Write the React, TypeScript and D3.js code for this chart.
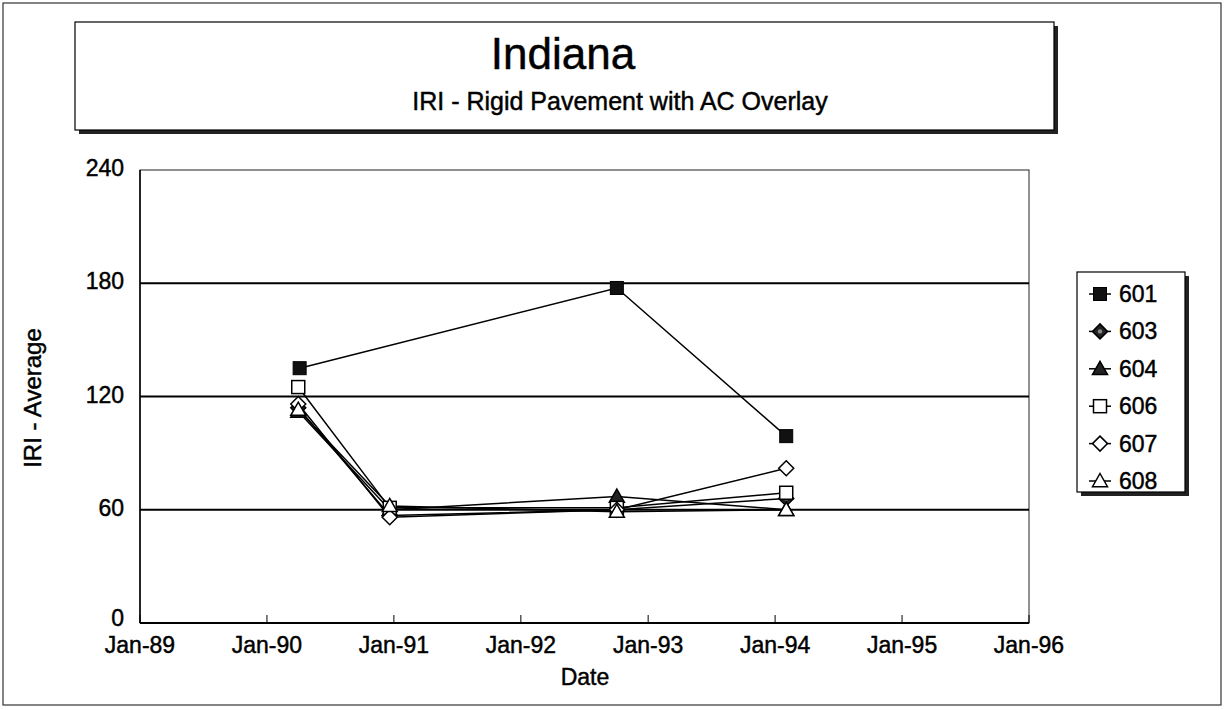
import React from "react";
import * as d3 from "d3";

const seriesNames = ["601", "603", "604", "606", "607", "608"];
const markerTypes = ["squareFilled", "diamondHatch", "triangleFilled", "squareOpen", "diamondOpen", "triangleOpen"];
const dates601 = [new Date(1990, 3, 5), new Date(1992, 9, 3), new Date(1994, 1, 2)];
const datesOther = [new Date(1990, 3, 1), new Date(1990, 11, 20), new Date(1992, 9, 3), new Date(1994, 1, 2)];
const values601 = [135, 177.5, 99];
const values603 = [114, 57, 60, 66];
const values604 = [112, 60, 67, 60];
const values606 = [125, 61, 61, 69];
const values607 = [116, 56, 60, 82];
const values608 = [113, 62, 59, 60];
const yTicks = [0, 60, 120, 180, 240];
const xTickYears = [1989, 1990, 1991, 1992, 1993, 1994, 1995, 1996];
const xTickLabels = ["Jan-89", "Jan-90", "Jan-91", "Jan-92", "Jan-93", "Jan-94", "Jan-95", "Jan-96"];

const FONT = "'Liberation Sans', Arial, sans-serif";
const TXT = { fill: "#000", stroke: "#000", strokeWidth: 0.45 };

function Marker({ type, x, y }: { type: string; x: number; y: number }) {
  const s = 6.5;
  if (type === "squareFilled")
    return <rect x={x - s} y={y - s} width={2 * s} height={2 * s} fill="#111" stroke="#000" />;
  if (type === "squareOpen")
    return <rect x={x - s} y={y - s} width={2 * s} height={2 * s} fill="#fff" stroke="#000" strokeWidth={1.5} />;
  if (type === "diamondHatch" || type === "diamondOpen") {
    const d = 7.5;
    return (
      <g>
        <path d={`M${x},${y - d}L${x + d},${y}L${x},${y + d}L${x - d},${y}Z`} fill={type === "diamondOpen" ? "#fff" : "#222"} stroke="#000" strokeWidth={1.5} />
        {type === "diamondHatch" && <circle cx={x} cy={y} r={2.2} fill="#888" />}
      </g>
    );
  }
  const t = 7.5;
  return (
    <path
      d={`M${x},${y - t}L${x + t},${y + t * 0.75}L${x - t},${y + t * 0.75}Z`}
      fill={type === "triangleFilled" ? "#222" : "#fff"}
      stroke="#000"
      strokeWidth={1.5}
    />
  );
}

export default function App() {
  const W = 1225, H = 710;
  const x = d3.scaleTime().domain([new Date(1989, 0, 1), new Date(1996, 0, 1)]).range([140, 1029]);
  const y = d3.scaleLinear().domain([0, 240]).range([623, 170]);
  const allValues = [values601, values603, values604, values606, values607, values608];
  const series = seriesNames.map((name, i) => ({
    name,
    type: markerTypes[i],
    pts: (i === 0 ? dates601 : datesOther).map((d, j) => ({ d, v: allValues[i][j] })),
  }));
  const line = d3.line<{ d: Date; v: number }>().x((p) => x(p.d)).y((p) => y(p.v));

  return (
    <svg width={W} height={H} style={{ position: "absolute", left: 0, top: 0, background: "#fff" }} fontFamily={FONT}>
      <rect x={3} y={3} width={1218} height={702} fill="#fff" stroke="#333" strokeWidth={1.2} />
      {/* Title box with shadow */}
      <rect x={79} y={26} width={979} height={108} fill="#222" />
      <rect x={75} y={22} width={979} height={108} fill="#fff" stroke="#000" strokeWidth={1.2} />
      <text x={563} y={69} textAnchor="middle" fontSize={44} {...TXT}>Indiana</text>
      <text x={620} y={110} textAnchor="middle" fontSize={25} {...TXT}>IRI  -  Rigid Pavement with AC Overlay</text>

      {/* Plot frame */}
      <rect x={140} y={170} width={889} height={453} fill="#fff" stroke="#222" strokeWidth={1} />
      {yTicks.filter((t) => t > 0 && t < 240).map((t) => (
        <line key={t} x1={140} x2={1029} y1={y(t)} y2={y(t)} stroke="#000" strokeWidth={2} />
      ))}
      <line x1={140} x2={1029} y1={623} y2={623} stroke="#000" strokeWidth={2} />
      <line x1={140} x2={140} y1={170} y2={623} stroke="#000" strokeWidth={1.5} />
      {xTickYears.map((yr) => (
        <line key={yr} x1={x(new Date(yr, 0, 1))} x2={x(new Date(yr, 0, 1))} y1={623} y2={615} stroke="#000" strokeWidth={1} />
      ))}
      {yTicks.map((t) => (
        <text key={t} x={124} y={y(t) + (t === 0 ? 3 : 6)} textAnchor="end" fontSize={23} {...TXT}>{t}</text>
      ))}
      {xTickYears.map((yr, i) => (
        <text key={yr} x={x(new Date(yr, 0, 1))} y={653} textAnchor="middle" fontSize={23} {...TXT}>{xTickLabels[i]}</text>
      ))}
      <text x={585} y={685} textAnchor="middle" fontSize={23} {...TXT}>Date</text>
      <text transform="translate(41,398) rotate(-90)" textAnchor="middle" fontSize={24} {...TXT}>IRI - Average</text>

      {/* Series */}
      {series.map((s) => (
        <path key={s.name} d={line(s.pts) || ""} fill="none" stroke="#000" strokeWidth={1.5} />
      ))}
      {series.map((s) => (
        <g key={s.name + "m"}>
          {s.pts.map((p, j) => (
            <Marker key={j} type={s.type} x={x(p.d)} y={y(p.v)} />
          ))}
        </g>
      ))}

      {/* Legend */}
      <rect x={1081} y={276} width={108} height={220} fill="#222" />
      <rect x={1077} y={272} width={108} height={220} fill="#fff" stroke="#000" strokeWidth={1.2} />
      {series.map((s, i) => {
        const ly = 294 + i * 37.4;
        return (
          <g key={s.name + "l"}>
            <line x1={1089} x2={1111} y1={ly} y2={ly} stroke="#000" strokeWidth={1.5} />
            <Marker type={s.type} x={1100} y={ly} />
            <text x={1119} y={ly + 8} fontSize={23} {...TXT}>{s.name}</text>
          </g>
        );
      })}
    </svg>
  );
}
